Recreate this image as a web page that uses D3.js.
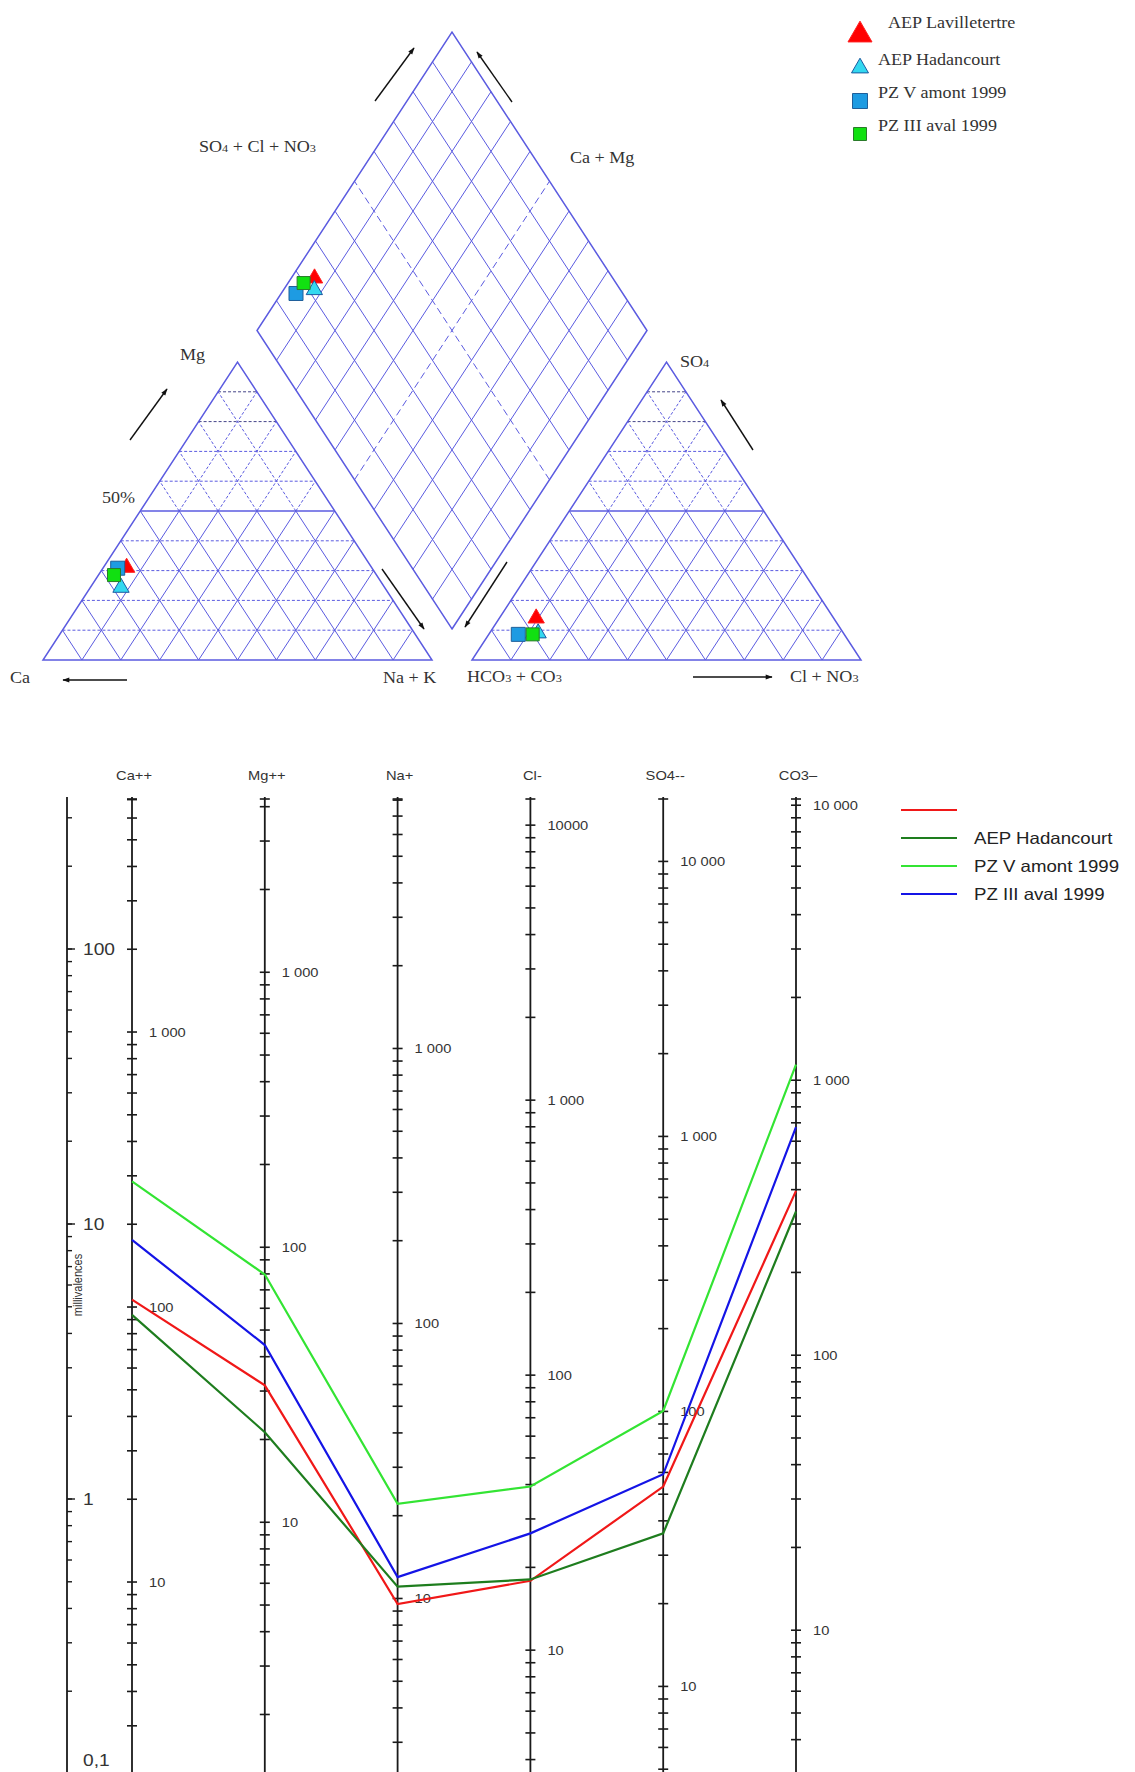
<!DOCTYPE html>
<html><head><meta charset="utf-8">
<script src="https://cdn.jsdelivr.net/npm/d3@7"></script>
<style>body{margin:0;background:#fff}</style>
</head><body>
<svg id="chart" width="1135" height="1772" xmlns="http://www.w3.org/2000/svg"></svg>
<script>
// ================= DATA =================
const samples = ["AEP Lavilletertre", "AEP Hadancourt", "PZ V amont 1999", "PZ III aval 1999"];
// Piper diagram, percentages of meq
const cationMg  = [31.0, 24.3, 30.8, 28.5];
const cationNaK = [6.0, 7.9, 3.8, 4.0];
const anionSO4  = [14.0, 9.0, 8.6, 8.6];
const anionCl   = [9.5, 12.5, 7.6, 11.3];

// Schoeller diagram
const ions = ["Ca++", "Mg++", "Na+", "Cl-", "SO4--", "CO3–"];
const equivalentWeights = [20.04, 12.15, 23.0, 35.45, 48.03, 30.0];
const ionTickValues = [[1000,100,10],[1000,100,10],[1000,100,10],[10000,1000,100,10],[10000,1000,100,10],[10000,1000,100,10]];
const ionTickLabels = [["1 000","100","10"],["1 000","100","10"],["1 000","100","10"],["10000","1 000","100","10"],["10 000","1 000","100","10"],["10 000","1 000","100","10"]];
const meqTickValues = [100, 10, 1, 0.1];
const meqTickLabels = ["100", "10", "1", "0,1"];
const schoellerNames = ["", "AEP Hadancourt", "PZ V amont 1999", "PZ III aval 1999"];
const meqLavilletertre = [5.31, 2.59, 0.415, 0.504, 1.11, 13.2];
const meqHadancourt    = [4.67, 1.75, 0.48, 0.51, 0.75, 11.1];
const meqPZVamont      = [14.3, 6.55, 0.96, 1.11, 2.09, 38.0];
const meqPZIIIaval     = [8.76, 3.63, 0.52, 0.75, 1.23, 22.5];

// ================= LAYOUT / STYLE =================
const SX = 1.13; // horizontal stretch of the original picture
const svg = d3.select("#chart");
svg.append("rect").attr("width",1135).attr("height",1772).attr("fill","#fff");
const gridColor = "#5b5be0";
const serif = "'Liberation Serif','Times New Roman',serif";
const sans = "'Liberation Sans',Arial,sans-serif";

function stext(g, x, y, str, o = {}) {
  const t = g.append("text")
    .attr("transform", `translate(${x},${y}) scale(${SX},1)`)
    .attr("font-family", o.family || sans)
    .attr("font-size", o.size || 13)
    .attr("fill", o.fill || "#333")
    .attr("text-anchor", o.anchor || "start");
  if (o.dy) t.attr("dy", o.dy);
  return t.text(str);
}
function chemText(g, x, y, parts, size) {
  const t = g.append("text")
    .attr("transform", `translate(${x},${y}) scale(${SX},1)`)
    .attr("font-family", serif).attr("font-size", size).attr("fill", "#333");
  parts.forEach(([s, sub]) => {
    t.append("tspan").attr("font-size", sub ? size * 0.68 : size).text(s);
  });
  return t;
}

// ---------- Piper geometry ----------
const triH = d3.scaleLinear().domain([0, 100]).range([660, 362]);
const leftX = d3.scaleLinear().domain([0, 100]).range([43, 432]);
const rightX = d3.scaleLinear().domain([0, 100]).range([472, 861]);
const dBottom = [452, 629];
const dAx = d3.scaleLinear().domain([0, 100]).range([0, 195]);
const dCx = d3.scaleLinear().domain([0, 100]).range([0, 195]);
const dY = d3.scaleLinear().domain([0, 100]).range([0, 298.5]);

function triPt(xs, r, t) { return [xs(r + t / 2), triH(t)]; }
function diaPt(A, C) { return [dBottom[0] + dAx(A) - dCx(C), dBottom[1] - dY(A) - dY(C)]; }

const gP = svg.append("g");
const line2 = (a, b, dash, w, col) => gP.append("line")
  .attr("x1", a[0]).attr("y1", a[1]).attr("x2", b[0]).attr("y2", b[1])
  .attr("stroke", col || gridColor).attr("stroke-width", w || 1)
  .attr("stroke-dasharray", dash || null);

function drawTriangle(xs) {
  const steps = d3.range(10, 100, 10);
  steps.forEach(t => line2(triPt(xs, 0, t), triPt(xs, 100 - t, t), t === 50 ? null : "3,2",
    t === 50 ? 1.4 : 1, t >= 80 ? "#444488" : gridColor));
  steps.forEach(r => {
    const tmax = 100 - r;
    if (tmax > 50) { line2(triPt(xs, r, 0), triPt(xs, r, 50)); line2(triPt(xs, r, 50), triPt(xs, r, tmax), "3,2"); }
    else line2(triPt(xs, r, 0), triPt(xs, r, tmax));
  });
  steps.forEach(l => {
    const tmax = 100 - l;
    const p = t => triPt(xs, 100 - l - t, t);
    if (tmax > 50) { line2(p(0), p(50)); line2(p(50), p(tmax), "3,2"); }
    else line2(p(0), p(tmax));
  });
  gP.append("path").attr("d", d3.line()([triPt(xs,0,0), triPt(xs,100,0), triPt(xs,0,100)]) + "Z")
    .attr("fill", "none").attr("stroke", gridColor).attr("stroke-width", 1.5);
}
drawTriangle(leftX);
drawTriangle(rightX);

d3.range(10, 100, 10).forEach(k => {
  const dash = k === 50 ? "7,4" : null;
  line2(diaPt(k, 0), diaPt(k, 100), dash, 1);
  line2(diaPt(0, k), diaPt(100, k), dash, 1);
});
gP.append("path").attr("d", d3.line()([diaPt(0,0), diaPt(100,0), diaPt(100,100), diaPt(0,100)]) + "Z")
  .attr("fill", "none").attr("stroke", gridColor).attr("stroke-width", 1.5);

// arrows (decoration)
svg.append("defs").append("marker").attr("id", "ah").attr("viewBox", "0 0 10 10")
  .attr("refX", 9).attr("refY", 5).attr("markerWidth", 9).attr("markerHeight", 7)
  .attr("markerUnits", "userSpaceOnUse").attr("orient", "auto")
  .append("path").attr("d", "M0,1.5 L10,5 L0,8.5 Z").attr("fill", "#111");
const arrows = [
  [[130, 440], [167, 389]], [[127, 680], [63, 680]], [[382, 569], [424, 629]],
  [[507, 562], [465, 627]], [[753, 450], [721, 400]], [[693, 677], [772, 677]],
  [[375, 101], [414, 48]], [[512, 102], [477, 52]]
];
arrows.forEach(([a, b]) => gP.append("line").attr("x1", a[0]).attr("y1", a[1]).attr("x2", b[0]).attr("y2", b[1])
  .attr("stroke", "#111").attr("stroke-width", 1.4).attr("marker-end", "url(#ah)"));

const LS = 16;
chemText(gP, 199, 152, [["SO",0],["4",1],[" + Cl + NO",0],["3",1]], LS);
chemText(gP, 570, 163, [["Ca + Mg",0]], LS);
chemText(gP, 180, 360, [["Mg",0]], LS);
chemText(gP, 102, 503, [["50%",0]], LS);
chemText(gP, 10, 683, [["Ca",0]], LS);
chemText(gP, 383, 683, [["Na + K",0]], LS);
chemText(gP, 680, 367, [["SO",0],["4",1]], LS);
chemText(gP, 467, 682, [["HCO",0],["3",1],[" + CO",0],["3",1]], LS);
chemText(gP, 790, 682, [["Cl + NO",0],["3",1]], LS);

const markerStyles = [
  { type: d3.symbolTriangle, size: 115, fill: "#ff0000", stroke: "#ff2020", lsize: 250 },
  { type: d3.symbolTriangle, size: 115, fill: "#33d8f0", stroke: "#1a5aa0", lsize: 125 },
  { type: d3.symbolSquare, size: 196, fill: "#1e9be2", stroke: "#1f5f9a", lsize: 225 },
  { type: d3.symbolSquare, size: 169, fill: "#11e011", stroke: "#2a7a2a", lsize: 169 }
];
const drawOrder = [0, 2, 1, 3];
const gM = svg.append("g");
drawOrder.forEach(i => {
  const st = markerStyles[i];
  const pts = [
    triPt(leftX, cationNaK[i], cationMg[i]),
    triPt(rightX, anionCl[i], anionSO4[i]),
    diaPt(anionSO4[i] + anionCl[i], 100 - cationNaK[i])
  ];
  pts.forEach(p => gM.append("path").attr("d", d3.symbol(st.type, st.size)())
    .attr("transform", `translate(${p[0]},${p[1]})`)
    .attr("fill", st.fill).attr("stroke", st.stroke).attr("stroke-width", 1));
});
const legY = d3.scaleLinear().domain([0, 3]).range([35, 134]);
samples.forEach((s, i) => {
  const st = markerStyles[i];
  gM.append("path").attr("d", d3.symbol(st.type, st.lsize)())
    .attr("transform", `translate(860,${legY(i)})`)
    .attr("fill", st.fill).attr("stroke", st.stroke).attr("stroke-width", 1);
  stext(gM, i === 0 ? 888 : 878, legY(i) - (i === 0 ? 7 : 3), s, { family: serif, size: 16, fill: "#333" });
});

// ---------- Schoeller diagram ----------
const gS = svg.append("g");
const axisTop = 797, axisBottom = 1772;
const yMeq = d3.scaleLog().domain([0.1, 100]).range([1774, 949]);
const xIon = d3.scalePoint().domain(ions).range([132, 796]);
const xMeqAxis = 67;
const inkAxis = "#1a1a1a";

function logTicks(lo, hi) {
  const out = [];
  for (let e = -3; e <= 6; e++) for (let d = 1; d <= 9; d++) {
    const v = d * Math.pow(10, e);
    if (v >= lo && v <= hi) out.push(v);
  }
  return out;
}
const meqLo = yMeq.invert(axisBottom), meqHi = yMeq.invert(axisTop);
gS.append("line").attr("x1", xMeqAxis).attr("x2", xMeqAxis).attr("y1", axisTop).attr("y2", axisBottom)
  .attr("stroke", inkAxis).attr("stroke-width", 1.8);
logTicks(meqLo, meqHi).forEach(v => gS.append("line").attr("x1", xMeqAxis).attr("x2", xMeqAxis + 5)
  .attr("y1", yMeq(v)).attr("y2", yMeq(v)).attr("stroke", inkAxis).attr("stroke-width", 1.4));
meqTickValues.forEach((v, i) => {
  gS.append("line").attr("x1", xMeqAxis).attr("x2", xMeqAxis + 8).attr("y1", yMeq(v)).attr("y2", yMeq(v))
    .attr("stroke", inkAxis).attr("stroke-width", 1.4);
  stext(gS, 83, Math.min(yMeq(v), 1760), meqTickLabels[i], { size: 17, dy: "0.35em", fill: "#333" });
});
stext(gS, 0, 0, "millivalences", { size: 11, anchor: "middle", fill: "#333" })
  .attr("transform", `translate(82,1285) rotate(-90) scale(1,${SX})`);

ions.forEach((ion, i) => {
  const x = xIon(ion);
  const w = equivalentWeights[i];
  const yIon = d3.scaleLog().domain([meqLo * w, meqHi * w]).range([axisBottom, axisTop]);
  gS.append("line").attr("x1", x).attr("x2", x).attr("y1", axisTop).attr("y2", axisBottom)
    .attr("stroke", inkAxis).attr("stroke-width", 1.8);
  logTicks(meqLo * w, meqHi * w).forEach(v => gS.append("line")
    .attr("x1", x - 5).attr("x2", x + 5).attr("y1", yIon(v)).attr("y2", yIon(v))
    .attr("stroke", inkAxis).attr("stroke-width", 1.6));
  gS.append("line").attr("x1", x - 5).attr("x2", x + 5).attr("y1", axisTop + 2).attr("y2", axisTop + 2)
    .attr("stroke", inkAxis).attr("stroke-width", 1.6);
  ionTickValues[i].forEach((v, j) => stext(gS, x + 17, yIon(v), ionTickLabels[i][j], { size: 13, dy: "0.35em", fill: "#333" }));
  stext(gS, x + 2, 780, ion, { size: 13, anchor: "middle", fill: "#333" });
});

const seriesValues = [meqLavilletertre, meqHadancourt, meqPZVamont, meqPZIIIaval];
const seriesColors = ["#f01818", "#1e7d1e", "#33e433", "#1414e6"];
const lineGen = d3.line().x((d, i) => xIon(ions[i])).y(d => yMeq(d));
seriesValues.forEach((vals, k) => gS.append("path").attr("d", lineGen(vals))
  .attr("fill", "none").attr("stroke", seriesColors[k]).attr("stroke-width", 2.2));

const sLegY = d3.scaleLinear().domain([0, 3]).range([810, 894]);
schoellerNames.forEach((n, k) => {
  gS.append("line").attr("x1", 901).attr("x2", 957).attr("y1", sLegY(k)).attr("y2", sLegY(k))
    .attr("stroke", seriesColors[k]).attr("stroke-width", 2.2);
  stext(gS, 974, sLegY(k), n, { size: 16.5, dy: "0.35em", fill: "#222" });
});
</script>
</body></html>
